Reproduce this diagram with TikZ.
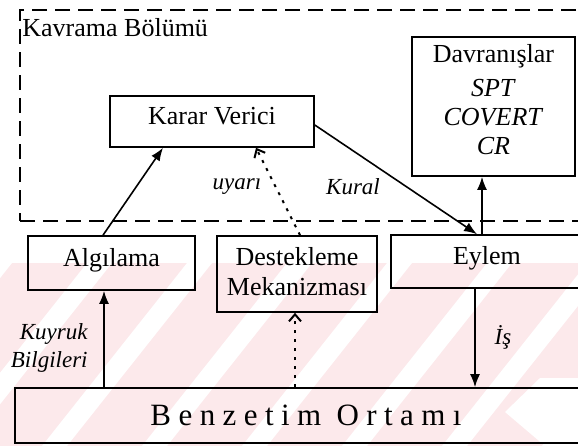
\documentclass[tikz,border=0pt]{standalone}
\usepackage{fontspec}
\setmainfont{LiberationSerif}[Extension=.ttf,UprightFont=*-Regular,ItalicFont=*-Italic,BoldFont=*-Bold,BoldItalicFont=*-BoldItalic]
\usetikzlibrary{arrows.meta,calc}
\definecolor{wmpink}{RGB}{252,233,235}
\begin{document}
\begin{tikzpicture}[x=0.5pt,y=-0.5pt,
  box/.style={draw,line width=0.8pt,inner sep=0pt,align=center,font=\fontsize{13}{15}\selectfont},
  oneline/.style={text height=7.5pt,text depth=4.5pt},
  lbl/.style={inner sep=0pt,font=\fontsize{11.5}{14}\selectfont\itshape},
  solid arrow/.style={line width=0.8pt,-{Latex[length=6.5pt,width=5pt]}},
  hint arrow/.style={line width=1pt,dash pattern=on 1.5pt off 3pt,-{Straight Barb[length=3.5pt,width=6pt,line width=1pt]}},
  frame/.style={draw,line width=1pt,dash pattern=on 7.5pt off 4pt,inner sep=0pt},
]
\useasboundingbox (0,0) rectangle (578,446);

% faint striped background band
\begin{scope}
  \clip (0,263) rectangle (578,446);
  \fill[wmpink] (0,263) rectangle (578,446);
  \foreach \k in {-2,...,6}
    \fill[white] ({\k*100+42},446) -- ++(25,0) -- ++(145,-183) -- ++(-25,0) -- cycle;
  \fill[white] (505,412) -- (540,378) -- (578,378) -- (578,446) -- (545,446) -- cycle;
\end{scope}

% cognition frame
\node[frame,minimum width=287.5pt,minimum height=105.5pt] (kb) at (307.5,115.5) {};
\node[anchor=base west,inner sep=0pt,font=\fontsize{13}{15}\selectfont] (kt)
  at ($(kb.north west)+(3,27)$) {Kavrama Bölümü};

% blocks
\node[box,oneline,minimum width=102pt,minimum height=25.5pt] (kv) at (212,121.5) {Karar Verici};
\node[box,minimum width=81.5pt,minimum height=69.5pt,font=\fontsize{13}{14.5}\selectfont] (dv) at (493.5,106.5)
  {Davranışlar\\[2.5pt]\textit{SPT}\\\textit{COVERT}\\\textit{CR}\\[-7.5pt]\mbox{}};
\node[box,oneline,minimum width=83.5pt,minimum height=27pt] (al) at (111.5,263) {Algılama};
\node[box,minimum width=80pt,minimum height=38pt] (dm) at (297,274)
  {Destekleme\\Mekanizması\\[-12pt]\mbox{}};
\node[box,oneline,minimum width=96pt,minimum height=26.5pt] (ey) at (487,261.5) {Eylem};
\node[box,minimum width=291pt,minimum height=27.5pt,
  font=\fontsize{15.5}{18}\selectfont\addfontfeature{LetterSpace=24}] (bo) at (306,415.5) {Benzetim Ortamı};

% connectors
\draw[solid arrow] ($(al.north)+(-8.5,0)$) -- ($(kv.south)+(-49,0)$);
\draw[hint arrow] ($(dm.north)+(3,0)$) -- ($(kv.south)+(44,0)$);
\draw[solid arrow] ($(kv.east)+(0,3.5)$) -- ($(ey.north)+(-10,0)$);
\draw[solid arrow] ($(ey.north)+(-5,0)$) -- ($(dv.south)+(-11.5,0)$);
\draw[solid arrow] ($(bo.north)+(-202,0)$) -- ($(al.south)+(-7.5,0)$);
\draw[hint arrow] ($(bo.north)+(-11,0)$) -- ($(dm.south)+(-2,0)$);
\draw[solid arrow] ($(ey.south)+(-12,0)$) -- ($(bo.north)+(169,0)$);

% connector labels
\node[lbl] (uy) at (237,187) {uyarı};
\node[lbl] (kr) at (353,187) {Kural};
\node[lbl,align=right,anchor=east] (kq) at (88,348) {Kuyruk\\Bilgileri};
\node[lbl] (is) at (503,337) {İş};
\end{tikzpicture}
\end{document}
